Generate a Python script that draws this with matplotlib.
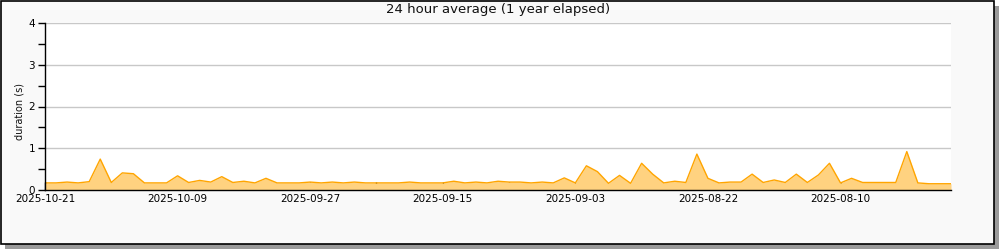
import matplotlib
matplotlib.use('Agg')
import matplotlib.pyplot as plt
import matplotlib.dates as mdates
from matplotlib.patches import Rectangle
from matplotlib.ticker import MultipleLocator, FixedLocator
import pandas as pd

# daily 24h averages, newest first (2025-10-21 going back)
start_date = '2025-10-21'
end_date = '2025-07-31'
durations = [0.17, 0.17, 0.19, 0.17, 0.20, 0.74, 0.18, 0.41, 0.39, 0.17,
             0.17, 0.17, 0.34, 0.18, 0.23, 0.19, 0.32, 0.18, 0.21, 0.17,
             0.28, 0.17, 0.17, 0.17, 0.19, 0.17, 0.19, 0.17, 0.19, 0.17,
             0.17, 0.17, 0.17, 0.19, 0.17, 0.17, 0.17, 0.21, 0.17, 0.19,
             0.17, 0.21, 0.19, 0.19, 0.17, 0.19, 0.17, 0.29, 0.17, 0.58,
             0.44, 0.16, 0.35, 0.16, 0.64, 0.38, 0.17, 0.21, 0.18, 0.86,
             0.28, 0.17, 0.19, 0.19, 0.38, 0.18, 0.24, 0.18, 0.38, 0.18,
             0.36, 0.64, 0.17, 0.28, 0.18, 0.18, 0.18, 0.18, 0.92, 0.17,
             0.15, 0.15, 0.15]
tick_labels = ['2025-10-21', '2025-10-09', '2025-09-27', '2025-09-15',
               '2025-09-03', '2025-08-22', '2025-08-10']
minor_dates = ['2025-10-15', '2025-10-03', '2025-09-21', '2025-09-09',
               '2025-08-28', '2025-08-16', '2025-08-04']

dates = pd.date_range(start_date, periods=len(durations), freq='-1D')

W, H = 1000, 250
fig = plt.figure(figsize=(W/100, H/100), dpi=100)
fig.patch.set_facecolor('white')

# frame with drop shadow
fig.patches.append(Rectangle((5/W, 1/H), 994/W, 243/H, transform=fig.transFigure,
                             facecolor='#9a9a9a', edgecolor='none', zorder=-10))
fig.patches.append(Rectangle((0.5/W, 6/H), 993/W, 243.5/H, transform=fig.transFigure,
                             facecolor='#f9f9f9', edgecolor='black', lw=1.2, zorder=-9))

ax = fig.add_axes([45/W, (H-190)/H, 906/W, 167/H])
ax.set_facecolor('white')

ax.fill_between(dates, durations, 0, color='#ffd280', lw=0, zorder=2)
ax.plot(dates, durations, color='#ffa500', lw=1, zorder=3)

ax.set_xlim(pd.Timestamp(start_date), pd.Timestamp(end_date))
ax.set_ylim(0, 4)

ax.xaxis.set_major_locator(FixedLocator(mdates.date2num(pd.to_datetime(tick_labels))))
ax.xaxis.set_minor_locator(FixedLocator(mdates.date2num(pd.to_datetime(minor_dates))))
ax.xaxis.set_major_formatter(mdates.DateFormatter('%Y-%m-%d'))
ax.yaxis.set_major_locator(MultipleLocator(1))
ax.yaxis.set_minor_locator(MultipleLocator(0.5))

ax.tick_params(axis='x', which='both', direction='in', length=6, width=1,
               labelsize=7.5, pad=3, colors='black')
ax.tick_params(axis='y', which='both', direction='out', length=5, width=1,
               labelsize=7.5, pad=2)
ax.grid(axis='y', which='major', color='#c8c8c8', lw=1, zorder=1)
ax.set_axisbelow(True)

for s in ['top', 'right']:
    ax.spines[s].set_visible(False)
for s in ['left', 'bottom']:
    ax.spines[s].set_linewidth(1)
    ax.spines[s].set_zorder(4)

fig.text(498/W, 1 - 10/H, '24 hour average (1 year elapsed)', ha='center', va='center',
         fontsize=9.5, color='#111111')
fig.text(20/W, 1 - 112/H, 'duration (s)', rotation=90, ha='center', va='center',
         fontsize=7, color='#111111')

fig.savefig('out.png', dpi=100, facecolor=fig.get_facecolor())
